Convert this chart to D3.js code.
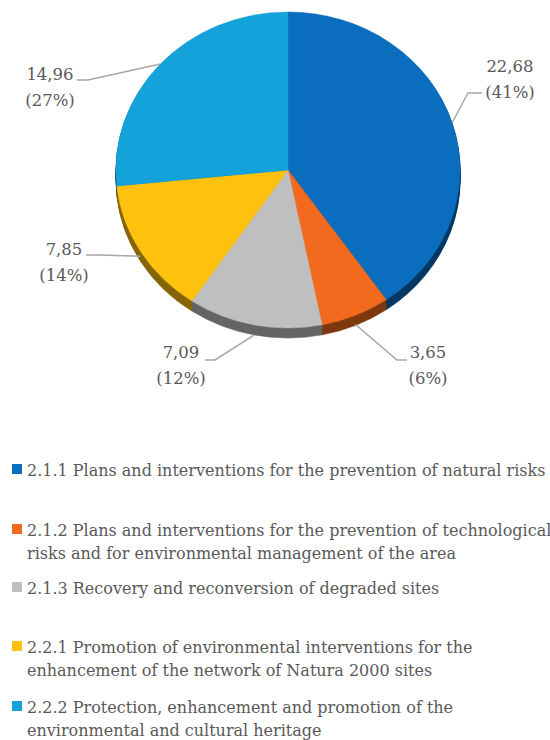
<!DOCTYPE html>
<html>
<head>
<meta charset="utf-8">
<script src="https://cdn.jsdelivr.net/npm/d3@7"></script>
<style>
  body { margin: 0; background: #fff; }
  svg { display: block; }
</style>
</head>
<body>
<svg id="chart" width="550" height="740"></svg>
<script>
// Data
let codes = ['2.1.1', '2.1.2', '2.1.3', '2.2.1', '2.2.2'];
let values = [22.68, 3.65, 7.09, 7.85, 14.96];
let percents = ['41%', '6%', '12%', '14%', '27%'];
let legendLines = [
    ['2.1.1 Plans and interventions for the prevention of natural risks'],
    ['2.1.2 Plans and interventions for the prevention of technological', 'risks and for environmental management of the area'],
    ['2.1.3 Recovery and reconversion of degraded sites'],
    ['2.2.1 Promotion of environmental interventions for the', 'enhancement of the network of Natura 2000 sites'],
    ['2.2.2 Protection, enhancement and promotion of the', 'environmental and cultural heritage']
];
let colors = ['#0A6DBE', '#F26A1E', '#BFBFBF', '#FEC10D', '#14A2DA'];

// Layout of the labels (elbow, end of leader, text centre, first baseline)
let labelLayout = [
    { elbowX: 468, elbowY: 93, endX: 482, textX: 510, textY: 72 },
    { elbowX: 397, elbowY: 360, endX: 407, textX: 428, textY: 358 },
    { elbowX: 215, elbowY: 360, endX: 205, textX: 181, textY: 358 },
    { elbowX: 100, elbowY: 255, endX: 86, textX: 64, textY: 255 },
    { elbowX: 88, elbowY: 80, endX: 77, textX: 50, textY: 80 }
];
let legendY = [476, 536, 594, 653, 713];

let font = "'DejaVu Serif', serif";
let textColor = '#595959';

let svg = d3.select('#chart');
let cx = 288, cy = 170, rx = 172, ry = 158, depth = 10;

let fmt = d3.formatLocale({ decimal: ',', thousands: '.', grouping: [3], currency: ['', '€'] }).format('.2f');

let pie = d3.pie().sort(null).startAngle(0).endAngle(2 * Math.PI);
let arcs = pie(values);
let arc = d3.arc().innerRadius(0).outerRadius(1);

// Side (depth) of the 3D pie
for (let d = depth; d > 0; d--) {
    svg.append('g')
        .attr('transform', `translate(${cx},${cy + d}) scale(${rx},${ry})`)
        .selectAll('path')
        .data(arcs)
        .enter()
        .append('path')
        .attr('d', arc)
        .attr('fill', (a, i) => d3.color(colors[i]).darker(1.8))
        .attr('stroke', (a, i) => d3.color(colors[i]).darker(1.8))
        .attr('stroke-width', 0.004);
}

// Top of the pie
let pieTop = svg.append('g')
    .attr('transform', `translate(${cx},${cy}) scale(${rx},${ry})`);
pieTop.selectAll('path')
    .data(arcs)
    .enter()
    .append('path')
    .attr('d', arc)
    .attr('fill', (a, i) => colors[i])
    .attr('stroke', (a, i) => colors[i])
    .attr('stroke-width', 0.003);

// Leader lines and labels
arcs.forEach((a, i) => {
    let mid = (a.startAngle + a.endAngle) / 2;
    let sx = cx + rx * Math.sin(mid);
    let sy = cy - ry * Math.cos(mid) + Math.max(0, -Math.cos(mid)) * depth;
    let lay = labelLayout[i];
    svg.append('polyline')
        .attr('points', [[sx, sy], [lay.elbowX, lay.elbowY], [lay.endX, lay.elbowY]].map(p => p.join(',')).join(' '))
        .attr('fill', 'none')
        .attr('stroke', '#A6A6A6')
        .attr('stroke-width', 1.5);

    let t = svg.append('text')
        .attr('x', lay.textX)
        .attr('y', lay.textY)
        .attr('text-anchor', 'middle')
        .attr('font-family', font)
        .attr('fill', textColor)
        .attr('font-size', 16.5);
    t.append('tspan').attr('x', lay.textX).text(fmt(values[i]));
    t.append('tspan').attr('x', lay.textX).attr('dy', 26).text('(' + percents[i] + ')');
});

// Legend
let legend = svg.selectAll('.legend')
    .data(codes)
    .enter()
    .append('g')
    .attr('class', 'legend');

legend.append('rect')
    .attr('x', 12)
    .attr('y', (c, i) => legendY[i] - 12)
    .attr('width', 10)
    .attr('height', 10)
    .attr('fill', (c, i) => colors[i]);

legend.append('text')
    .attr('font-family', font)
    .attr('fill', textColor)
    .attr('font-size', 16)
    .each(function (c, i) {
        let t = d3.select(this);
        legendLines[i].forEach((line, j) => {
            t.append('tspan')
                .attr('x', 27)
                .attr('y', legendY[i] + j * 23)
                .text(line);
        });
    });
</script>
</body>
</html>
